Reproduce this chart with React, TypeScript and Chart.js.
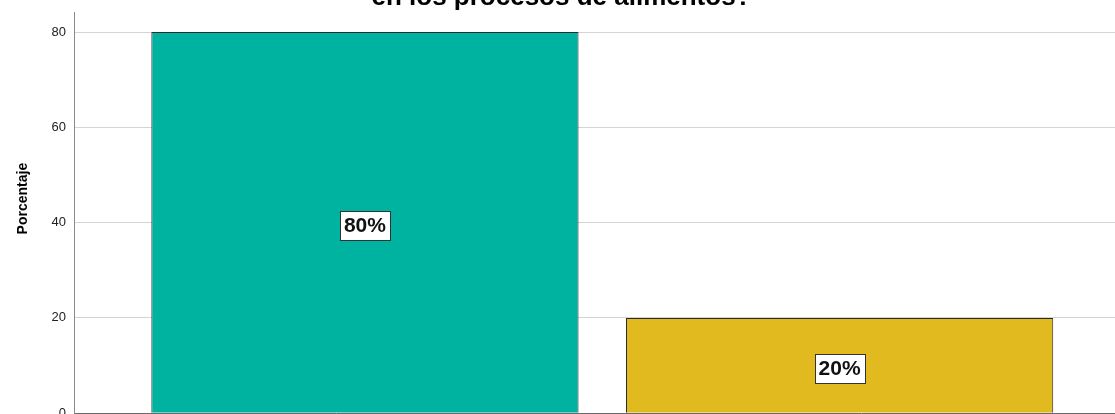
import { useEffect, useRef } from "react";
import { Chart, registerables } from "chart.js";

Chart.register(...registerables);

const categories = ["Sí", "No"];
const percentages = [80, 20];
const yTickValues = [0, 20, 40, 60, 80];
const titleText = "en los procesos de alimentos?";
const yAxisTitle = "Porcentaje";
const barColors = ["#00b2a0", "#e1ba1f"];

const FONT = "'Liberation Sans', Arial, sans-serif";

const barLabelPlugin = {
  id: "barLabels",
  afterDatasetsDraw(chart: any) {
    const ctx = chart.ctx;
    const meta = chart.getDatasetMeta(0);
    ctx.save();
    ctx.font = `bold 21px ${FONT}`;
    ctx.textAlign = "center";
    ctx.textBaseline = "middle";
    meta.data.forEach((bar: any, i: number) => {
      const text = `${percentages[i]}%`;
      const cx = bar.x;
      const cy = (bar.y + bar.base) / 2 + 3;
      const w = Math.round(ctx.measureText(text).width + 8);
      const h = 29;
      const left = Math.round(cx - w / 2);
      const top = Math.round(cy - h / 2);
      ctx.fillStyle = "#ffffff";
      ctx.fillRect(left, top, w, h);
      ctx.strokeStyle = "#333333";
      ctx.lineWidth = 1;
      ctx.strokeRect(left + 0.5, top + 0.5, w, h);
      ctx.fillStyle = "#111111";
      ctx.fillText(text, cx, cy + 1);
    });
    ctx.restore();
  },
};

const yTitlePlugin = {
  id: "yTitle",
  afterDraw(chart: any) {
    const ctx = chart.ctx;
    const area = chart.chartArea;
    ctx.save();
    ctx.font = `bold 14px ${FONT}`;
    ctx.fillStyle = "#000000";
    ctx.textAlign = "center";
    ctx.textBaseline = "middle";
    ctx.translate(area.left - 51, (area.top + area.bottom) / 2 - 14);
    ctx.rotate(-Math.PI / 2);
    ctx.fillText(yAxisTitle, 0, 0);
    ctx.restore();
  },
};

export default function App() {
  const ref = useRef<HTMLCanvasElement | null>(null);

  useEffect(() => {
    document.body.style.margin = "0";
    if (!ref.current) return;
    Chart.defaults.font.family = FONT;
    const chart = new Chart(ref.current, {
      type: "bar",
      data: {
        datasets: [
          {
            label: yAxisTitle,
            data: percentages.map((v, i) => ({ x: i + 1, y: v })) as any,
            backgroundColor: barColors,
            borderColor: "#2a2a2a",
            borderWidth: 1,
            barPercentage: 0.9,
            categoryPercentage: 1.0,
          },
        ],
      },
      options: {
        responsive: false,
        animation: false,
        layout: { padding: { left: 0, right: 0, top: 0, bottom: 0 } },
        plugins: {
          legend: { display: false },
          tooltip: {
            callbacks: {
              title: (items: any) => categories[items[0].dataIndex],
            },
          },
          title: {
            display: true,
            text: titleText,
            color: "#000000",
            font: { size: 26, weight: "bold", family: FONT, lineHeight: 0.7 },
            padding: { top: 3.4, bottom: 5.4 },
          },
        },
        scales: {
          x: {
            type: "linear",
            offset: false,
            min: 0.3871,
            max: 2.597,
            afterBuildTicks: (axis: any) => {
              axis.ticks = categories.map((_, i) => ({ value: i + 1 }));
            },
            afterFit: (axis: any) => {
              axis.height = 0;
            },
            ticks: { display: false },
            grid: { display: false, drawTicks: false, offset: false },
            border: { display: true, color: "#6a6a6a", width: 1 },
          },
          y: {
            min: 0,
            max: 84.2,
            afterBuildTicks: (axis: any) => {
              axis.ticks = yTickValues.map((v) => ({ value: v }));
            },
            afterFit: (axis: any) => {
              axis.width = 74;
            },
            ticks: {
              color: "#222222",
              font: { size: 13, family: FONT },
              padding: 8,
            },
            grid: { color: "#d4d4d4", lineWidth: 1, drawTicks: false },
            border: { display: true, color: "#8a8a8a", width: 1 },
          },
        },
      },
      plugins: [barLabelPlugin, yTitlePlugin],
    });
    return () => chart.destroy();
  }, []);

  return (
    <div
      style={{
        position: "relative",
        width: 1115,
        height: 414,
        overflow: "hidden",
        background: "#ffffff",
      }}
    >
      <canvas
        ref={ref}
        width={1123}
        height={444}
        style={{ position: "absolute", top: -15, left: 0, width: 1123, height: 444, display: "block" }}
      />
    </div>
  );
}
